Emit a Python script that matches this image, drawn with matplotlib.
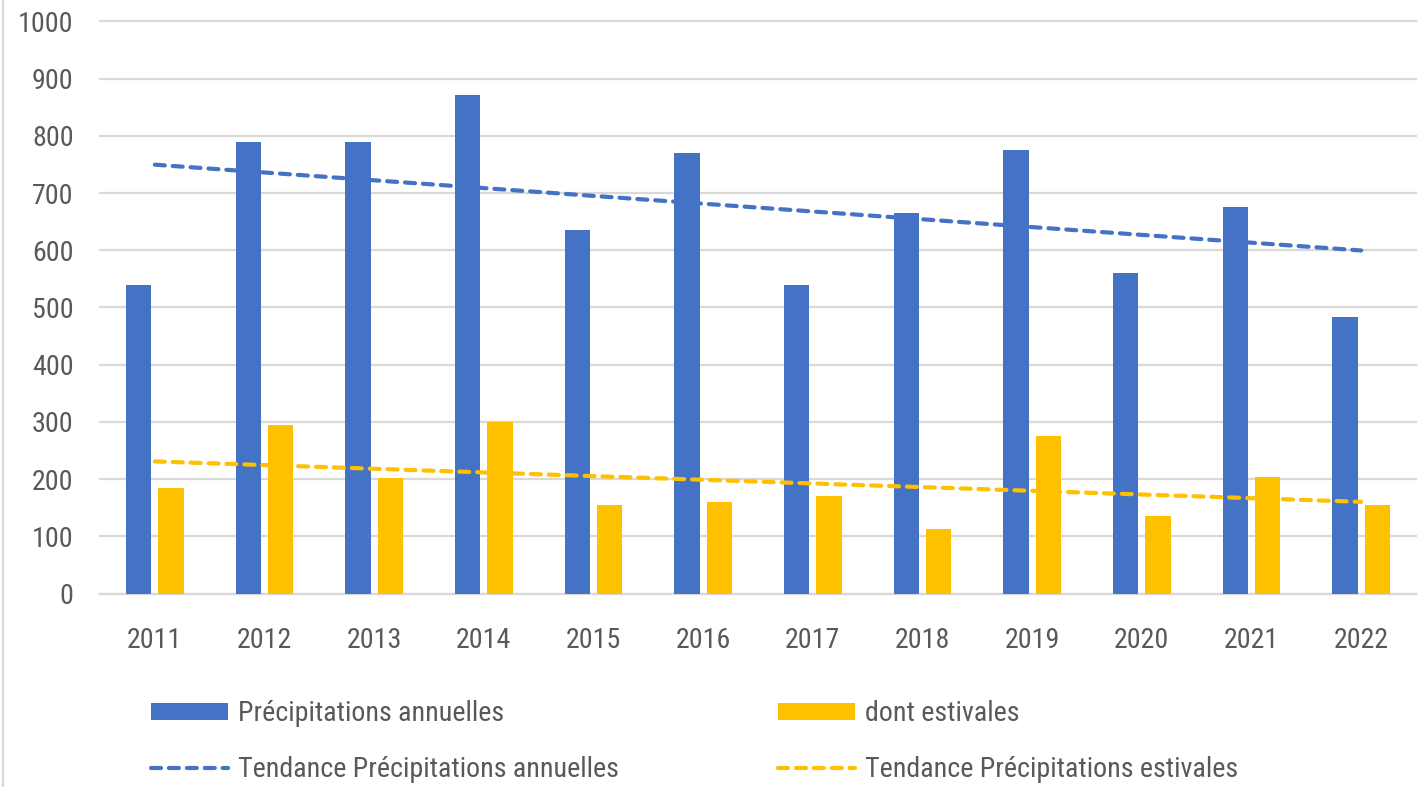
import matplotlib
matplotlib.use("Agg")
import matplotlib.pyplot as plt
import numpy as np
from matplotlib.patches import Patch
from matplotlib.lines import Line2D
from matplotlib import font_manager
from matplotlib.font_manager import FontProperties
from matplotlib.textpath import TextPath

years = ["2011", "2012", "2013", "2014", "2015", "2016", "2017", "2018", "2019", "2020", "2021", "2022"]
annuelles = [540, 790, 790, 872, 636, 770, 540, 665, 775, 560, 675, 483]
estivales = [184, 294, 202, 300, 155, 160, 170, 112, 276, 136, 203, 155]
yticks = [0, 100, 200, 300, 400, 500, 600, 700, 800, 900, 1000]

label_ann = "Précipitations annuelles"
label_est = "dont estivales"
label_tann = "Tendance Précipitations annuelles"
label_test = "Tendance Précipitations estivales"

# find a condensed / narrow font if available
cands = []
for f in font_manager.fontManager.ttflist:
    nm = f.name
    if f.style != 'normal' or f.weight not in (400, 'normal', 'regular'):
        continue
    if ('Narrow' in nm or 'Condensed' in nm or f.stretch in ('condensed', 'semi-condensed')) \
            and 'Bold' not in f.fname and 'Light' not in f.fname and 'Italic' not in f.fname:
        cands.append(f)
order = ['Roboto', 'Liberation', 'Open Sans', 'Noto Sans', 'DejaVu']
chosen = None
for key in order:
    for f in cands:
        if key in f.name:
            chosen = f
            break
    if chosen:
        break
if chosen is not None:
    fp_base = FontProperties(fname=chosen.fname)
else:
    fp_base = FontProperties(family='Liberation Sans')

# calibrate size so legend label width matches ~262 px
ref = fp_base.copy()
ref.set_size(20)
tp = TextPath((0, 0), label_ann, prop=ref)
w_pts = tp.get_extents().width
size = 20 * (262 * 72 / 100) / w_pts
fp = fp_base.copy()
fp.set_size(size)

BLUE = "#4472C4"
YEL = "#FFC000"
TXT = "#595959"
GRID = "#D9D9D9"

W, H = 1426, 787
fig = plt.figure(figsize=(W / 100, H / 100), dpi=100)
ax = fig.add_axes([100 / W, 1 - 593.5 / H, (1416 - 100) / W, (593.5 - 21.5) / H])

x = np.arange(len(years))
bw = 0.23
off = 0.147
ax.bar(x - off, annuelles, width=bw, color=BLUE, zorder=3)
ax.bar(x + off, estivales, width=bw, color=YEL, zorder=3)

pa = np.polyfit(x, annuelles, 1)
pe = np.polyfit(x, estivales, 1)
xt = np.array([x[0], x[-1]])
dash_kw = dict(lw=3.0, dash_capstyle='round', zorder=4)
la, = ax.plot(xt, np.polyval(pa, xt), color=BLUE, **dash_kw)
le, = ax.plot(xt, np.polyval(pe, xt), color=YEL, **dash_kw)
la.set_dashes((2.4, 1.9))
le.set_dashes((2.4, 1.9))

ax.set_xlim(-0.5, len(years) - 0.5)
ax.set_ylim(0, 1000)
ax.set_yticks(yticks)
ax.set_xticks(x)
ax.set_xticklabels(years)
ax.tick_params(axis='both', length=0, colors=TXT)
ax.tick_params(axis='y', pad=19)
ax.tick_params(axis='x', pad=24)
for lab in ax.get_xticklabels() + ax.get_yticklabels():
    lab.set_fontproperties(fp)
ax.grid(axis='y', color=GRID, lw=1.6, zorder=0)
for gl in ax.get_ygridlines():
    gl.set_clip_on(False)
for s in ['top', 'right', 'left']:
    ax.spines[s].set_visible(False)
ax.spines['bottom'].set_color(GRID)
ax.spines['bottom'].set_linewidth(1.6)

fig.add_artist(Line2D([2.5 / W, 2.5 / W], [0, 1], transform=fig.transFigure, color=GRID, lw=1.6))

h_ann = Patch(facecolor=BLUE)
h_est = Patch(facecolor=YEL)
h_tann = Line2D([], [], color=BLUE, lw=3.0, dash_capstyle='round', dashes=(2.4, 1.9))
h_test = Line2D([], [], color=YEL, lw=3.0, dash_capstyle='round', dashes=(2.4, 1.9))

px_size = size * 100 / 72
leg_kw = dict(loc='upper left', frameon=False, prop=fp, handlelength=77 / px_size,
              handleheight=16 / px_size, handletextpad=10 / px_size,
              labelspacing=(57 - px_size) / px_size,
              borderpad=0, borderaxespad=0, labelcolor=TXT)
top_px = 714 - px_size / 2
leg1 = fig.legend([h_ann, h_tann], [label_ann, label_tann],
                  bbox_to_anchor=(151 / W, 1 - top_px / H), **leg_kw)
leg2 = fig.legend([h_est, h_test], [label_est, label_test],
                  bbox_to_anchor=(778 / W, 1 - top_px / H), **leg_kw)

fig.savefig("out.png", dpi=100)
